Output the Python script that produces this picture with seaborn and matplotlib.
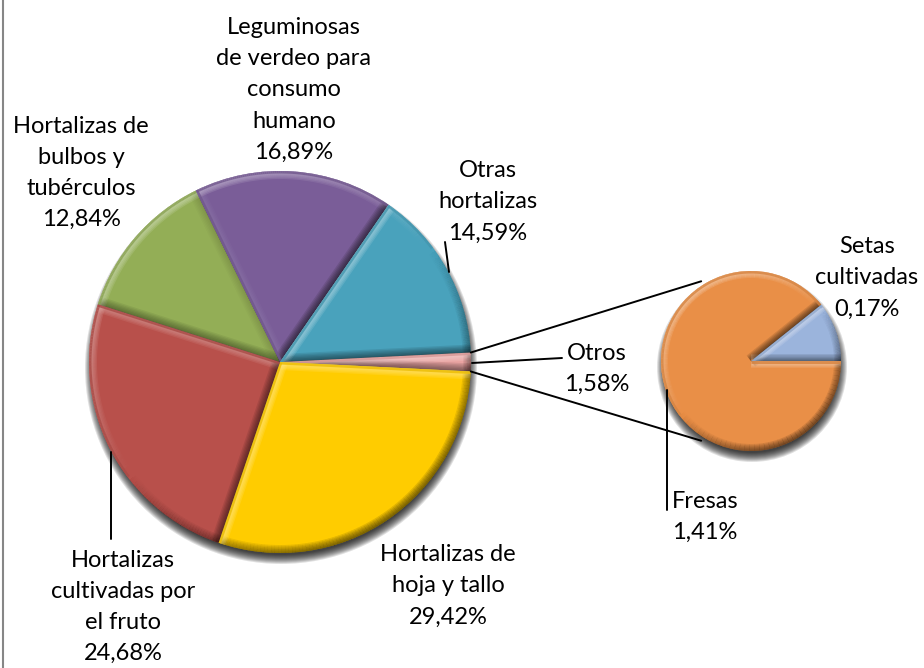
import numpy as np
import matplotlib
matplotlib.use('Agg')
import matplotlib.pyplot as plt
from matplotlib.collections import LineCollection
from matplotlib.colors import to_rgb
from matplotlib.patches import Circle
import seaborn as sns

# datos
main_names = ['Otros', 'Hortalizas de\nhoja y tallo', 'Hortalizas\ncultivadas por\nel fruto',
              'Hortalizas de\nbulbos y\ntubérculos', 'Leguminosas\nde verdeo para\nconsumo\nhumano',
              'Otras\nhortalizas']
main_values = [1.58, 29.42, 24.68, 12.84, 16.89, 14.59]
main_colors = ['#E9A3A1', '#FFCC00', '#B8504B', '#93AE56', '#7A5D98', '#49A2BC']
sub_names = ['Setas\ncultivadas', 'Fresas']
sub_values = [0.17, 1.41]
sub_colors = ['#9BB4DC', '#E98F47']

# posiciones en pixeles de la imagen
H = 668
label_pos = [(597, 369), (448, 586), (123, 607), (81, 173), (294, 90), (488, 202)]
sub_label_pos = [(867, 278), (705, 517)]


def fmt(v):
    return ('%.2f%%' % v).replace('.', ',')


def bevel(wedges, width=8, layers=6):
    light = np.array([-0.6, 0.8])
    for w in wedges:
        c = np.array(w.center)
        base = np.array(to_rgb(w.get_facecolor()))
        tint = base + (1 - base) * 0.55
        t = np.radians(np.linspace(w.theta1, w.theta2, 100))
        arc = c + w.r * np.column_stack([np.cos(t), np.sin(t)])
        segs = [[arc[i], arc[i + 1]] for i in range(len(arc) - 1)]
        mid = (t[:-1] + t[1:]) / 2
        normals = list(np.column_stack([np.cos(mid), np.sin(mid)]))
        # lados rectos
        t1, t2 = np.radians(w.theta1), np.radians(w.theta2)
        segs.append([c, arc[0]])
        normals.append(np.array([np.sin(t1), -np.cos(t1)]))
        segs.append([c, arc[-1]])
        normals.append(np.array([-np.sin(t2), np.cos(t2)]))
        shade = np.array(normals) @ light
        lit = shade > 0
        for k in range(layers):
            lw = 2 * width * (1 - k / layers) * 0.72
            rgba = np.zeros((len(segs), 4))
            rgba[lit, :3] = tint
            rgba[lit, 3] = shade[lit] * 0.22
            rgba[~lit, 3] = -shade[~lit] * 0.11
            lc = LineCollection(segs, colors=rgba, linewidths=lw, capstyle='butt', zorder=3)
            ax.add_collection(lc)
            lc.set_clip_path(w)
        # filo exterior del color base en la parte iluminada
        rgba = np.zeros((len(segs), 4))
        rgba[lit, :3] = base * 0.92
        rgba[lit, 3] = 0.8
        lc = LineCollection(segs, colors=rgba, linewidths=2 * 2.5 * 0.72, capstyle='butt', zorder=3)
        ax.add_collection(lc)
        lc.set_clip_path(w)


def shadow(x, y, r, off=6, blur=10):
    for k in range(blur):
        ax.add_patch(Circle((x + 1, y - off), r + blur / 2 - k, color='black', alpha=0.12, lw=0, zorder=1))


sns.set_theme(style='white')
plt.rcParams['font.family'] = ['Lato', 'DejaVu Sans']

fig = plt.figure(figsize=(9.24, 6.68), dpi=100)
ax = fig.add_axes([0, 0, 1, 1])

main_c = (280, H - 362)
main_r = 191
sub_c = (751, H - 361)
sub_r = 90

shadow(main_c[0], main_c[1], main_r)
shadow(sub_c[0], sub_c[1], sub_r)

start = main_values[0] / sum(main_values) * 180
w1, _ = ax.pie(main_values, colors=main_colors, center=main_c, radius=main_r, startangle=start,
               counterclock=False, frame=True, wedgeprops=dict(zorder=2, lw=0))
w2, _ = ax.pie(sub_values, colors=sub_colors, center=sub_c, radius=sub_r, startangle=sub_values[0] / sum(sub_values) * 360,
               counterclock=False, frame=True, wedgeprops=dict(zorder=2, lw=0))
bevel(w1)
bevel(w2, width=7)

# lineas guia
a = np.radians(start)
for sign in (1, -1):
    p0 = (main_c[0] + main_r * np.cos(a), main_c[1] + sign * main_r * np.sin(a))
    p1 = (sub_c[0] + 94 * np.cos(np.radians(122)), sub_c[1] + sign * 94 * np.sin(np.radians(122)))
    ax.plot([p0[0], p1[0]], [p0[1], p1[1]], color='black', lw=1.4, zorder=4)
leaders = [((472, 363), (562, 358)), ((445, 242), (449, 272)), ((111, 452), (111, 539)), ((667, 390), (667, 510))]
for p, q in leaders:
    ax.plot([p[0], q[0]], [H - p[1], H - q[1]], color='black', lw=1.4, zorder=4)

for name, val, pos in zip(main_names + sub_names, main_values + sub_values, label_pos + sub_label_pos):
    ax.text(pos[0], H - pos[1], name + '\n' + fmt(val), ha='center', va='center', fontsize=17,
            linespacing=1.6, color='black', zorder=5)

# borde del grafico
ax.plot([2.5, 2.5], [0, H], color='#868686', lw=1.5, zorder=6)

ax.set_xlim(0, 924)
ax.set_ylim(0, H)
ax.set_axis_off()
fig.savefig('out.png', dpi=100)
